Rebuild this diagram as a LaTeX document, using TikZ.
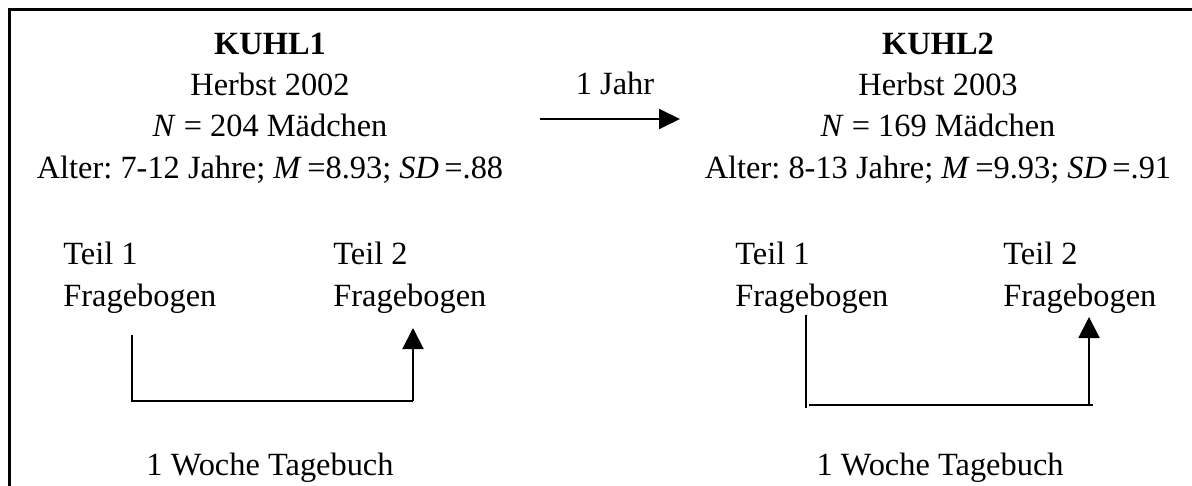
\documentclass[tikz,border=0pt]{standalone}
\usepackage{fontspec}
\setmainfont{Liberation Serif}
\usetikzlibrary{arrows.meta,positioning}

\tikzset{
  txt/.style={inner sep=0pt, font=\fontsize{16.2}{20}\selectfont},
  flow/.style={line width=1pt, -{Triangle[length=10.5pt, width=10.5pt]}},
  link/.style={line width=1pt},
}

\begin{document}
\frenchspacing
\begin{tikzpicture}[x=0.5pt, y=-0.5pt]
    \useasboundingbox (0,0) rectangle (1192,486);
    % outer frame (only top and left edge)
    \draw[line width=1.5pt] (9.5,486) -- (9.5,9.5) -- (1192,9.5);

    % first wave
    \node [txt, anchor=base] (kuhl1) at (270,55) {\textbf{KUHL1}};
    \node [txt, below=20.5pt of kuhl1.base, anchor=base] (zeit1) {Herbst 2002};
    \node [txt, below=20.5pt of zeit1.base, anchor=base] (n1) {\textit{N} = 204 Mädchen};
    \node [txt, below=20.5pt of n1.base, anchor=base] (alter1) {Alter: 7-12 Jahre; \textit{M}\,=8.93; \textit{SD}\,=.88};

    % second wave
    \node [txt, anchor=base] (kuhl2) at (938,55) {\textbf{KUHL2}};
    \node [txt, below=20.5pt of kuhl2.base, anchor=base] (zeit2) {Herbst 2003};
    \node [txt, below=20.5pt of zeit2.base, anchor=base] (n2) {\textit{N} = 169 Mädchen};
    \node [txt, below=20.5pt of n2.base, anchor=base] (alter2) {Alter: 8-13 Jahre; \textit{M}\,=9.93; \textit{SD}\,=.91};

    % interval between waves
    \node [txt, anchor=base] (jahr) at (615,95) {1 Jahr};
    \coordinate (jahrA) at (540,119);
    \coordinate (jahrB) at (680,119);
    \draw [line width=1pt, -{Triangle[length=10.5pt, width=10pt]}] (jahrA) -- (jahrB);

    % questionnaires, first wave
    \node [txt, anchor=base west] (teil1a) at (63,264) {Teil 1};
    \node [txt, below=21pt of teil1a.base west, anchor=base west] (frage1a) {Fragebogen};
    \node [txt, anchor=base west] (teil2a) at (333,264) {Teil 2};
    \node [txt, below=21pt of teil2a.base west, anchor=base west] (frage2a) {Fragebogen};
    \node [txt, anchor=base] (woche1) at (270,475) {1 Woche Tagebuch};

    \coordinate (wa1) at (132,335);
    \coordinate (wa2) at (413,401);
    \coordinate (wa3) at (413,328);
    \draw [link] (wa1) |- (wa2);
    \draw [flow] (wa2) -- (wa3);

    % questionnaires, second wave
    \node [txt, anchor=base west] (teil1b) at (735,264) {Teil 1};
    \node [txt, below=21pt of teil1b.base west, anchor=base west] (frage1b) {Fragebogen};
    \node [txt, anchor=base west] (teil2b) at (1003,264) {Teil 2};
    \node [txt, below=21pt of teil2b.base west, anchor=base west] (frage2b) {Fragebogen};
    \node [txt, anchor=base] (woche2) at (940,475) {1 Woche Tagebuch};

    \coordinate (wb1) at (806,315);
    \coordinate (wb2) at (806,408);
    \coordinate (wb3) at (809,405);
    \coordinate (wb4) at (1093,405);
    \coordinate (wb5) at (1089,405);
    \coordinate (wb6) at (1089,317);
    \draw [link] (wb1) -- (wb2);
    \draw [link] (wb3) -- (wb4);
    \draw [flow] (wb5) -- (wb6);
\end{tikzpicture}
\end{document}
